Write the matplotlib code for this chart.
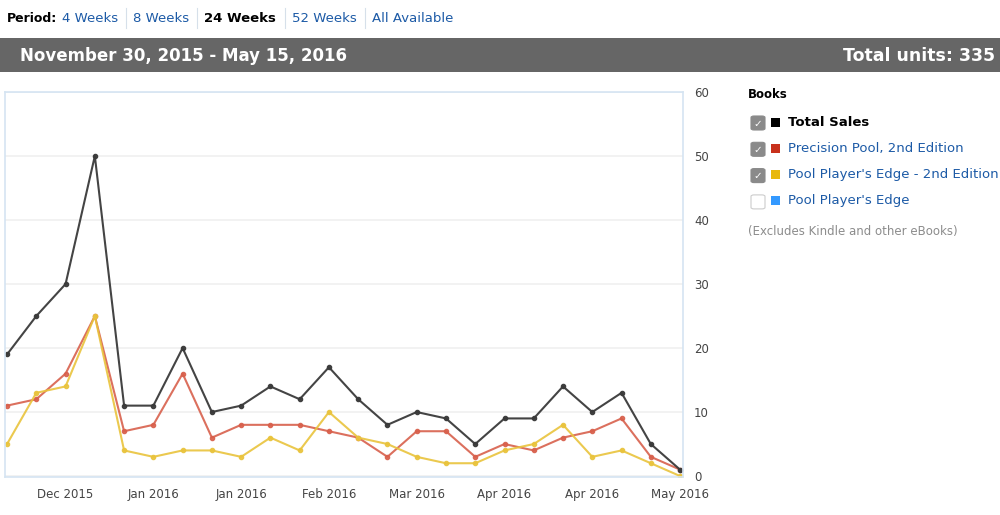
import matplotlib
matplotlib.use("Agg")
import matplotlib.pyplot as plt
import matplotlib.patches as mpatches

# --- データ（週ごとの販売数） ---
weeks = list(range(24))
total_sales = [19, 25, 30, 50, 11, 11, 20, 10, 11, 14, 12, 17,
               12, 8, 10, 9, 5, 9, 9, 14, 10, 13, 5, 1]
precision_pool = [11, 12, 16, 25, 7, 8, 16, 6, 8, 8, 8, 7,
                  6, 3, 7, 7, 3, 5, 4, 6, 7, 9, 3, 1]
ppe_2nd = [5, 13, 14, 25, 4, 3, 4, 4, 3, 6, 4, 10,
           6, 5, 3, 2, 2, 4, 5, 8, 3, 4, 2, 0]
tick_idx = [2, 5, 8, 11, 14, 17, 20, 23]
tick_labels = ["Dec 2015", "Jan 2016", "Jan 2016", "Feb 2016",
               "Mar 2016", "Apr 2016", "Apr 2016", "May 2016"]
y_ticks = [0, 10, 20, 30, 40, 50, 60]
periods = ["4 Weeks", "8 Weeks", "24 Weeks", "52 Weeks", "All Available"]
legend_items = ["Total Sales", "Precision Pool, 2nd Edition",
                "Pool Player's Edge - 2nd Edition", "Pool Player's Edge"]
legend_colors = ["#000000", "#c8311c", "#e8b80c", "#3399ff"]
legend_checked = [True, True, True, False]

W, H = 1000, 515
LINK = "#1c5aa6"

fig = plt.figure(figsize=(W / 100, H / 100), dpi=100)
plt.rcParams['font.family'] = ['DejaVu Sans']


def fx(px):
    return px / W


def fy(py):
    return 1 - py / H


# ===== ヘッダー =====
fig.text(fx(57), fy(18), "Period:", fontsize=9, fontweight='bold',
         color='black', va='center', ha='right')
xs = [62, 133, 204, 292, 372]
for i, (p, x) in enumerate(zip(periods, xs)):
    bold = p == "24 Weeks"
    fig.text(fx(x), fy(18), p, fontsize=9.5,
             fontweight='bold' if bold else 'normal',
             color='black' if bold else LINK, va='center', ha='left')
    if i > 0:
        fig.add_artist(plt.Line2D([fx(x - 7), fx(x - 7)], [fy(8), fy(28)],
                                  color='#d6e0ea', lw=0.8))

fig.add_artist(mpatches.Rectangle((0, fy(72)), 1, (72 - 38) / H,
                                  transform=fig.transFigure,
                                  facecolor='#666666', edgecolor='none'))
fig.text(fx(20), fy(56), "November 30, 2015 - May 15, 2016", fontsize=12,
         fontweight='bold', color='white', va='center', ha='left')
fig.text(fx(995), fy(56), "Total units: 335", fontsize=12.5,
         fontweight='bold', color='white', va='center', ha='right')

# ===== グラフ本体 =====
ax = fig.add_axes([fx(5), fy(477), (683 - 5) / W, (477 - 92) / H])
ax.plot(weeks, precision_pool, '-o', color='#d8604c', lw=1.5, ms=3, alpha=0.9)
ax.plot(weeks, ppe_2nd, '-o', color='#e9c33c', lw=1.5, ms=3, alpha=0.9)
ax.plot(weeks, total_sales, '-o', color='#3a3a3a', lw=1.5, ms=3, alpha=0.95)

ax.set_xlim(-0.07, 23.1)
ax.set_ylim(-0.15, 60)
ax.set_yticks(y_ticks)
ax.yaxis.tick_right()
ax.set_xticks(tick_idx)
ax.set_xticklabels(tick_labels)
ax.tick_params(axis='both', length=0, labelsize=8.5, colors='#444444')
ax.tick_params(axis='y', pad=8)
ax.tick_params(axis='x', pad=8)
ax.grid(axis='y', color='#f0f0f0', lw=1.2)
ax.set_axisbelow(True)
for s in ax.spines.values():
    s.set_color('#d5e4f2')
    s.set_linewidth(1.2)

# ===== 凡例 =====
fig.text(fx(748), fy(94), "Books", fontsize=8.5, fontweight='bold',
         color='black', va='center', ha='left')
for i, (name, c, chk) in enumerate(zip(legend_items, legend_colors, legend_checked)):
    y = 122 + i * 26.3
    box = mpatches.FancyBboxPatch((fx(751), fy(y + 8)), 14 / W, 14 / H,
                                  boxstyle="round,pad=0,rounding_size=0.003",
                                  transform=fig.transFigure,
                                  facecolor='#8a8a8a' if chk else 'white',
                                  edgecolor='#8a8a8a' if chk else '#cccccc', lw=0.8)
    fig.add_artist(box)
    if chk:
        fig.text(fx(758), fy(y + 1.5), "\u2713", fontsize=7.5, color='white',
                 va='center', ha='center')
    fig.add_artist(mpatches.Rectangle((fx(771), fy(y + 4.5)), 9 / W, 9 / H,
                                      transform=fig.transFigure,
                                      facecolor=c, edgecolor='none'))
    fig.text(fx(788), fy(y), name, fontsize=9.5,
             fontweight='bold' if i == 0 else 'normal',
             color='black' if i == 0 else LINK, va='center', ha='left')

fig.text(fx(748), fy(232), "(Excludes Kindle and other eBooks)", fontsize=8.5,
         color='#8c8c8c', va='center', ha='left')

fig.savefig("out.png", dpi=100)
